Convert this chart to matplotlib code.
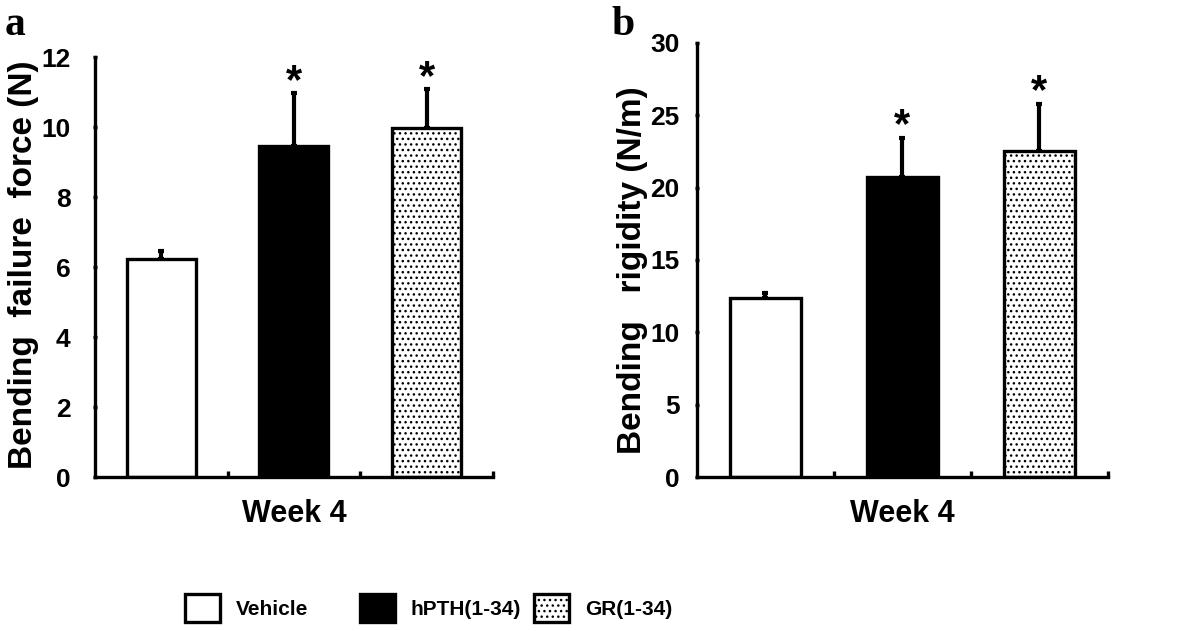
import matplotlib.pyplot as plt
from matplotlib.patches import Patch
import numpy as np

plt.rcParams['font.family'] = ['Liberation Sans', 'DejaVu Sans']
plt.rcParams['font.weight'] = 'bold'
plt.rcParams['hatch.linewidth'] = 1.0

groups = ['Vehicle', 'hPTH(1-34)', 'GR(1-34)']
face = ['white', 'black', 'white']
hatches = [None, None, '...']

force = [6.23, 9.46, 9.97]
force_err = [0.23, 1.51, 1.11]
rigidity = [12.37, 20.7, 22.5]
rigidity_err = [0.33, 2.7, 3.3]

x = np.array([0.5, 1.5, 2.5])

fig = plt.figure(figsize=(11.81, 6.31), dpi=100)
ax1 = fig.add_axes([0.0804, 0.244, 0.337, 0.6656])
ax2 = fig.add_axes([0.590, 0.244, 0.348, 0.688])


def draw(ax, vals, errs, ymax, step, ylabel, star_pad, tpad, lab_xy):
    for i in range(3):
        ax.bar(x[i], vals[i], width=0.52, color=face[i], edgecolor='black',
               linewidth=2.4, hatch=hatches[i], zorder=2)
        ax.errorbar(x[i], vals[i], yerr=[[0], [errs[i]]], fmt='none',
                    ecolor='black', elinewidth=3, capsize=2.5, capthick=3, zorder=1)
    for i in (1, 2):
        ax.text(x[i], vals[i] + errs[i] + star_pad, '*', ha='center', va='bottom',
                fontsize=30, fontweight='bold')
    ax.set_xlim(0, 3)
    ax.set_ylim(0, ymax)
    ax.set_yticks(np.arange(0, ymax + 0.1, step))
    ax.set_xticks([1, 2, 3])
    ax.set_xticklabels([])
    for s in ['top', 'right']:
        ax.spines[s].set_visible(False)
    for s in ['left', 'bottom']:
        ax.spines[s].set_linewidth(2.4)
    ax.tick_params(axis='y', length=3, width=2.4, direction='inout', labelsize=19, pad=tpad)
    ax.tick_params(axis='x', length=4, width=2.4, direction='in')
    ax.set_ylabel(ylabel, fontsize=24, fontweight='bold')
    ax.yaxis.set_label_coords(*lab_xy)
    ax.set_xlabel('Week 4', fontsize=22, fontweight='bold', labelpad=12)


draw(ax1, force, force_err, 12, 2, 'Bending  failure  force (N)', -0.25, 16, (-0.14, 0.505))
draw(ax2, rigidity, rigidity_err, 30, 5, 'Bending   rigidity (N/m)', -0.55, 11, (-0.118, 0.477))

fig.text(0.004, 0.944, 'a', fontsize=30, fontweight='bold', family='Liberation Serif')
fig.text(0.518, 0.944, 'b', fontsize=30, fontweight='bold', family='Liberation Serif')

# one legend per entry so the spacing matches the original
leg_x = [185 / 1181, 360 / 1181, 534 / 1181]
for i in range(3):
    h = Patch(facecolor=face[i], edgecolor='black', linewidth=2.4, hatch=hatches[i])
    fig.legend([h], [groups[i]], loc='center left', bbox_to_anchor=(leg_x[i], 0.036),
               frameon=False, fontsize=15, handlelength=1.68, handleheight=1.68,
               handletextpad=0.75, borderaxespad=0, borderpad=0)

fig.savefig('out.png', dpi=100)
